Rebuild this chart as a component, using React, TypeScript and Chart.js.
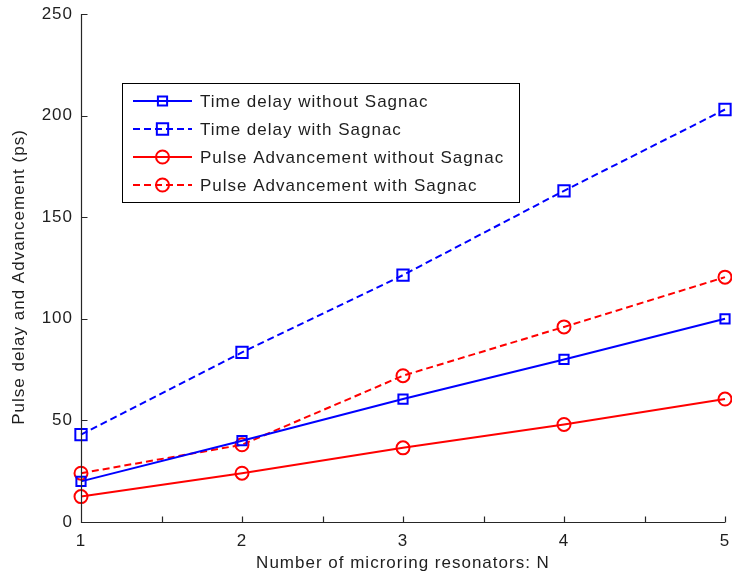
import { useEffect, useRef } from 'react';
import { Chart, registerables } from 'chart.js';

Chart.register(...registerables);

// Number of microring resonators on the x axis
const resonators = [1, 2, 3, 4, 5];

// Pulse delay / advancement in ps
const delayNoSagnac = [20, 40, 60.5, 80, 100];
const delaySagnac = [43, 83.5, 121.5, 163, 203];
const advanceNoSagnac = [12.5, 24, 36.5, 48, 60.5];
const advanceSagnac = [24, 38, 72, 96, 120.5];

const seriesLabels = [
  'Time delay without Sagnac',
  'Time delay with Sagnac',
  'Pulse Advancement without Sagnac',
  'Pulse Advancement with Sagnac',
];

const xTitle = 'Number of microring resonators: N';
const yTitle = 'Pulse delay and Advancement (ps)';

const FONT_FAMILY = 'Arial, "Liberation Sans", sans-serif';
const TEXT_COLOR = '#1e1e1e';
const AXIS_COLOR = '#262626';
const BLUE = '#0000ff';
const RED = '#ff0000';
const DASH = [7, 4];

type Style = { color: string; dash: number[]; point: 'rect' | 'circle'; radius: number };
const styles: Style[] = [
  { color: BLUE, dash: [], point: 'rect', radius: 6.5 },
  { color: BLUE, dash: DASH, point: 'rect', radius: 8 },
  { color: RED, dash: [], point: 'circle', radius: 6.5 },
  { color: RED, dash: DASH, point: 'circle', radius: 6.5 },
];
const seriesValues = [delayNoSagnac, delaySagnac, advanceNoSagnac, advanceSagnac];

function drawMarker(ctx: CanvasRenderingContext2D, s: Style, x: number, y: number) {
  ctx.save();
  ctx.setLineDash([]);
  ctx.strokeStyle = s.color;
  ctx.lineWidth = 2;
  ctx.beginPath();
  if (s.point === 'rect') {
    const h = (Math.SQRT2 * s.radius) / 2;
    ctx.rect(x - h, y - h, 2 * h, 2 * h);
  } else {
    ctx.arc(x, y, s.radius, 0, Math.PI * 2);
  }
  ctx.stroke();
  ctx.restore();
}

const matlabStyle = {
  id: 'matlabStyle',
  beforeDraw(chart: Chart) {
    (chart.ctx as any).letterSpacing = '1px';
  },
  afterDraw(chart: Chart) {
    const ctx = chart.ctx;
    const area = chart.chartArea;
    const xs = chart.scales.x;
    const ys = chart.scales.y;
    ctx.save();
    (ctx as any).letterSpacing = '1px';

    // axes (left and bottom only) with inward tick marks
    ctx.strokeStyle = AXIS_COLOR;
    ctx.lineWidth = 1.2;
    ctx.setLineDash([]);
    const left = Math.round(area.left) + 0.5;
    const bottom = Math.round(area.bottom) + 0.5;
    ctx.beginPath();
    ctx.moveTo(left, area.top);
    ctx.lineTo(left, bottom);
    ctx.lineTo(area.right, bottom);
    xs.ticks.forEach((t) => {
      const px = Math.round(xs.getPixelForValue(t.value)) + 0.5;
      ctx.moveTo(px, bottom);
      ctx.lineTo(px, bottom - 6);
    });
    ys.ticks.forEach((t) => {
      const py = Math.round(ys.getPixelForValue(t.value)) + 0.5;
      ctx.moveTo(left, py);
      ctx.lineTo(left + 6, py);
    });
    ctx.stroke();

    // axis titles
    ctx.fillStyle = TEXT_COLOR;
    ctx.font = `17px ${FONT_FAMILY}`;
    ctx.textAlign = 'center';
    ctx.textBaseline = 'middle';
    ctx.fillText(xTitle, (area.left + area.right) / 2, 563);
    ctx.save();
    ctx.translate(19, 277);
    ctx.rotate(-Math.PI / 2);
    ctx.fillText(yTitle, 0, 0);
    ctx.restore();

    // legend box
    const bx = 122.5, by = 83.5, bw = 397, bh = 119;
    ctx.fillStyle = '#ffffff';
    ctx.fillRect(bx, by, bw, bh);
    ctx.strokeStyle = '#000000';
    ctx.lineWidth = 1;
    ctx.strokeRect(bx, by, bw, bh);
    seriesLabels.forEach((label, i) => {
      const s = styles[i];
      const y = 101 + i * 28;
      ctx.save();
      ctx.strokeStyle = s.color;
      ctx.lineWidth = 2;
      ctx.setLineDash(s.dash);
      ctx.beginPath();
      ctx.moveTo(133, y);
      ctx.lineTo(192, y);
      ctx.stroke();
      ctx.restore();
      drawMarker(ctx, s, 162.5, y);
      ctx.fillStyle = TEXT_COLOR;
      ctx.textAlign = 'left';
      ctx.textBaseline = 'middle';
      ctx.fillText(label, 200, y + 1);
    });
    ctx.restore();
  },
};

export default function App() {
  const canvasRef = useRef<HTMLCanvasElement>(null);

  useEffect(() => {
    document.body.style.margin = '0';
    const canvas = canvasRef.current;
    if (!canvas) return;

    const datasets = seriesLabels.map((label, i) => ({
      label,
      data: resonators.map((n, j) => ({ x: n, y: seriesValues[i][j] })),
      borderColor: styles[i].color,
      borderWidth: 2,
      borderDash: styles[i].dash,
      pointStyle: styles[i].point,
      pointRadius: styles[i].radius,
      pointBorderWidth: 2,
      pointBorderColor: styles[i].color,
      pointBackgroundColor: 'rgba(0,0,0,0)',
      tension: 0,
      fill: false,
      clip: false as const,
    }));

    const chart = new Chart(canvas, {
      type: 'line',
      data: { datasets },
      plugins: [matlabStyle],
      options: {
        animation: false,
        responsive: false,
        layout: { autoPadding: false, padding: { top: 14, right: 7, left: 0, bottom: 0 } },
        plugins: { legend: { display: false }, tooltip: { enabled: false } },
        scales: {
          x: {
            type: 'linear',
            min: 1,
            max: 5,
            grid: { display: false, drawTicks: false },
            border: { display: false },
            ticks: {
              stepSize: 0.5,
              autoSkip: false,
              maxRotation: 0,
              padding: 9,
              color: TEXT_COLOR,
              font: { size: 17, family: FONT_FAMILY },
              callback: (v: any) => (Number.isInteger(v) ? String(v) : ''),
            },
            afterFit: (scale: any) => {
              scale.height = 56;
              scale.paddingLeft = 0;
              scale.paddingRight = 0;
            },
          },
          y: {
            type: 'linear',
            min: 0,
            max: 250,
            grid: { display: false, drawTicks: false },
            border: { display: false },
            ticks: {
              stepSize: 50,
              padding: 8,
              color: TEXT_COLOR,
              font: { size: 17, family: FONT_FAMILY },
            },
            afterFit: (scale: any) => {
              scale.width = 81;
              scale.paddingTop = 0;
              scale.paddingBottom = 0;
            },
          },
        },
      },
    });

    return () => chart.destroy();
  }, []);

  return (
    <div style={{ width: 732, height: 578, background: '#ffffff' }}>
      <canvas ref={canvasRef} width={732} height={578} />
    </div>
  );
}
